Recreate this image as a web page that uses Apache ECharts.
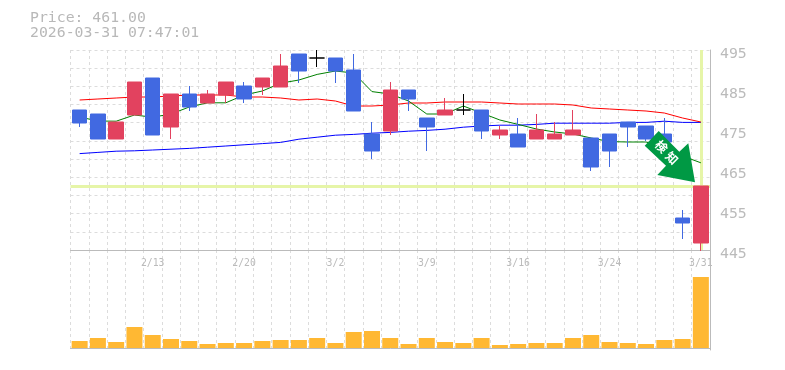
<!DOCTYPE html>
<html><head><meta charset="utf-8">
<script src="https://cdn.jsdelivr.net/npm/echarts@6/dist/echarts.min.js"></script>
<style>html,body{margin:0;padding:0;background:#fff}#c{width:785px;height:370px}</style>
</head><body><div id="c"></div>
<script>
const categories = ['2/6','2/9','2/10','2/12','2/13','2/16','2/17','2/18','2/19','2/20','2/24','2/25','2/26','2/27','3/2','3/3','3/4','3/5','3/6','3/9','3/10','3/11','3/12','3/13','3/16','3/17','3/18','3/19','3/23','3/24','3/25','3/26','3/27','3/30','3/31'];
const tickLabels = ['2/13','2/20','3/2','3/9','3/16','3/24','3/31'];
const priceTicks = [445,455,465,475,485,495];
const currentPrice = 461;
const titleText = 'Price: 461.00\n2026-03-31 07:47:01';
const arrowChars = ['検','知'];
// open, close, low, high
const candles = [
[480,476.75,475.75,480],[479,472.75,472.75,479],[472.75,477,472.75,477],[478.75,487,478.75,487],[488,473.75,473.75,488],
[475.75,484,472.75,484],[484,480.75,479.75,486],[481.75,484,481.75,485],[483.75,487,481.75,487],[486,482.75,481.75,487],
[485.75,488,483.75,488],[485.75,491,485.75,494],[494,489.75,486.75,494],[493,493,490.75,495],[493,489.75,486.75,493],
[490,479.75,479.75,494],[474,469.75,467.75,477],[474.75,485,473.75,487],[485,482.75,479.75,485],[478,475.75,469.75,478],
[478.75,480,478.75,483],[480,480,478.75,484],[480,474.75,472.75,480],[473.75,475,472.75,476],[474,470.75,470.75,478],
[472.75,475,472.75,479],[472.75,474,472.75,477],[473.75,475,473.75,480],[473,465.75,464.75,473],[474,469.75,465.75,474],
[477,475.75,470.75,477],[476,472.75,472.25,476],[474,472,472,478],[453,451.75,447.75,455],[446.75,461,444.75,461]];
const maShort = [478.25,477.25,477.2,478.75,478.2,479,480.75,481.8,481.8,483.75,484.75,486.7,487.5,488.9,489.75,489.25,484.6,484,482.25,479,479,481,479.25,477.5,476.4,475.25,474.5,474,473,472.1,472,472,470.5,468.5,466.8];
const maMid = [482.5,482.75,483,483.25,483.25,483.5,483.75,483.75,483.75,483.25,483.25,483,482.5,482.75,482.25,481,481,481.25,481.75,481.75,482,482,482,481.75,481.5,481.5,481.5,481.25,480.5,480.25,480,479.75,479.25,478,477];
const maLong = [469.1,469.4,469.7,469.8,470,470.2,470.4,470.7,471,471.3,471.6,471.9,472.7,473.2,473.7,473.9,474.2,474.4,474.7,474.9,475.2,475.7,476,476.2,476.2,476.4,476.7,476.7,476.7,476.7,476.9,476.9,477.2,476.9,476.9];
const volumes = [700,1000,600,2100,1300,900,700,400,500,500,700,800,800,1000,500,1600,1700,1000,400,1000,600,500,1000,300,400,500,500,1000,1300,600,500,400,800,900,7100];

const dash = {color:'#dcdcdc',width:1,type:[3,3]};
const axisGray = '#bbbbbb';
const mono = '"DejaVu Sans Mono","Liberation Mono",monospace';
const lineSeries = (name,data,color)=>({name,type:'line',data,xAxisIndex:0,yAxisIndex:0,symbol:'none',z:1,silent:true,
  lineStyle:{color,width:1},itemStyle:{color}});

const chart = echarts.init(document.getElementById('c'),null,{renderer:'canvas'});
chart.setOption({
  animation:false,
  backgroundColor:'#fff',
  title:{text:titleText,left:30,top:11,padding:0,textStyle:{fontFamily:mono,fontSize:14.8,fontWeight:'normal',color:'#b8b8b8',lineHeight:15}},
  grid:[
    {left:70.5,top:50,width:639.5,height:200},
    {left:70.5,top:250,width:639.5,height:100}
  ],
  xAxis:[
    {type:'category',gridIndex:0,data:categories,position:'bottom',
     axisLine:{show:true,lineStyle:{color:axisGray,width:1}},axisTick:{show:false},
     splitLine:{show:true,interval:0,lineStyle:dash},
     axisLabel:{show:true,hideOverlap:false,margin:8,fontFamily:mono,fontSize:9.8,color:'#bbbbbb',
       interval:(i,v)=>tickLabels.includes(v)}},
    {type:'category',gridIndex:1,data:categories,position:'bottom',
     axisLine:{show:true,lineStyle:{color:axisGray,width:1}},axisTick:{show:false},axisLabel:{show:false},
     splitLine:{show:true,interval:0,lineStyle:dash}}
  ],
  yAxis:[
    {type:'value',gridIndex:0,position:'right',min:445,max:495,interval:10,
     axisLine:{show:true,lineStyle:{color:axisGray,width:1}},axisTick:{show:false},splitLine:{show:false},
     axisLabel:{show:true,margin:10,verticalAlign:'top',lineHeight:8,fontFamily:mono,fontSize:14.8,color:'#bbbbbb',
       formatter:v=>priceTicks.includes(v)?String(v):''}},
    {type:'value',gridIndex:0,min:0,max:11,interval:1,show:true,
     axisLine:{show:false},axisTick:{show:false},axisLabel:{show:false},splitLine:{show:true,lineStyle:dash}},
    {type:'value',gridIndex:1,position:'right',min:-200,max:9800,
     axisLine:{show:true,lineStyle:{color:axisGray,width:1}},axisTick:{show:false},axisLabel:{show:false},splitLine:{show:false}}
  ],
  series:[
    {name:'guides',type:'line',data:[],xAxisIndex:0,yAxisIndex:0,z:1,silent:true,
     markLine:{silent:true,z:1,symbol:'none',label:{show:false},animation:false,
       lineStyle:{color:'#e6f5a8',width:3,type:'solid'},
       data:[{yAxis:currentPrice},{xAxis:categories[categories.length-1]}]}},
    lineSeries('MA long',maLong,'#0000ff'),
    lineSeries('MA mid',maMid,'#ff0000'),
    lineSeries('MA short',maShort,'#008000'),
    {name:'Price',type:'candlestick',data:candles,xAxisIndex:0,yAxisIndex:0,barWidth:15,z:3,clip:false,silent:true,
     itemStyle:{color:'#e2425f',color0:'#4169e1',borderColor:'#e2425f',borderColor0:'#4169e1',borderColorDoji:'#000000',borderWidth:1}},
    {name:'Volume',type:'bar',data:volumes,xAxisIndex:1,yAxisIndex:2,barWidth:16,z:3,silent:true,itemStyle:{color:'#ffb833'}}
  ],
  graphic:[
    {type:'polygon',z:100,silent:true,
     shape:{points:[[644.7,145.7],[658.7,131],[679.3,151.7],[688.3,143.3],[695,182.3],[657.3,175],[666,165.7]]},
     style:{fill:'#009944'}},
    {type:'text',z:101,silent:true,x:661.5,y:146.5,rotation:-Math.PI/4,
     style:{text:arrowChars[0],fill:'#fff',font:'bold 12px "Noto Sans CJK JP"',align:'center',verticalAlign:'middle'}},
    {type:'text',z:101,silent:true,x:672,y:158,rotation:-Math.PI/4,
     style:{text:arrowChars[1],fill:'#fff',font:'bold 12px "Noto Sans CJK JP"',align:'center',verticalAlign:'middle'}}
  ]
});
</script></body></html>
